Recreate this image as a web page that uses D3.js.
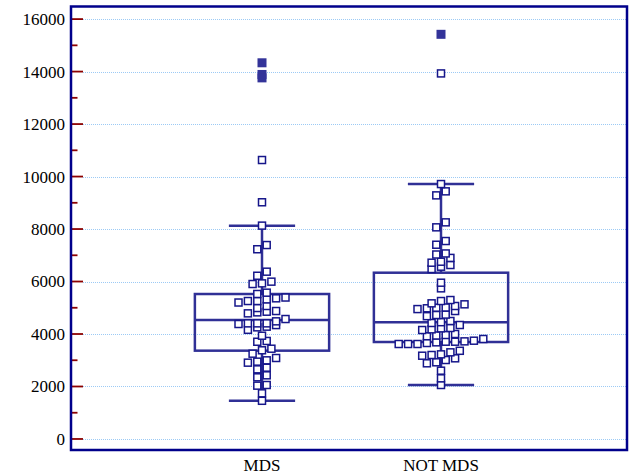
<!DOCTYPE html>
<html><head><meta charset="utf-8">
<script src="https://cdn.jsdelivr.net/npm/d3@7"></script>
<style>body{margin:0;background:#fff}svg{display:block}
svg text{font-family:"Liberation Serif","Times New Roman",serif !important;}</style>
</head><body>
<svg id="chart" width="632" height="475"></svg>
<script>
// ---- data ----
const categories = ["MDS", "NOT MDS"];
const mdsValues = [10630, 9020, 8130, 7390, 7230, 6375, 6220, 5995, 5930, 5905, 5575, 5525,
  5390, 5360, 5320, 5257, 5257, 5200, 5067, 4990, 4876, 4850, 4825, 4787,
  4571, 4483, 4406, 4406, 4406, 4381, 4340, 4280, 4254, 4160, 3935, 3735, 3705,
  3440, 3380, 3250, 3086, 2997, 2946, 2908, 2717, 2654, 2426, 2350, 2057, 2032, 1740, 1455];
const notMdsValues = [13930, 9714, 9436, 9283, 8255, 8065, 7543, 7402, 7070, 7030, 6900, 6755, 6717,
  6629, 6565, 6476, 5955, 5740, 5295, 5257, 5169, 5131, 5067, 5010, 5003, 4980, 4950, 4876,
  4740, 4724, 4680, 4495, 4450, 4420, 4343, 4230, 4216, 4178, 4152, 4000, 3962, 3943, 3916,
  3810, 3745, 3720, 3707, 3707, 3683, 3657, 3619, 3619, 3619,
  3360, 3302, 3225, 3200, 3173, 3074, 3009, 2922, 2884, 2602, 2312, 2057];
const mdsFarOut = [14335, 13890, 13760];
const notMdsFarOut = [15420];
// [lower whisker, Q1, median, Q3, upper whisker]
const mdsBox = [1455, 3365, 4530, 5524, 8130];
const notMdsBox = [2057, 3695, 4444, 6336, 9714];
const yTicks = [0, 2000, 4000, 6000, 8000, 10000, 12000, 14000, 16000];
const yMinorTicks = [1000, 3000, 5000, 7000, 9000, 11000, 13000, 15000];

const groups = [
  {name: categories[0], values: mdsValues, farOut: mdsFarOut, box: mdsBox},
  {name: categories[1], values: notMdsValues, farOut: notMdsFarOut, box: notMdsBox}
];

(function () {
// ---- layout ----
const pL = 71, pR = 627, pT = 6.5, pB = 450;
const svg = d3.select("#chart");
const y = d3.scaleLinear().domain([-420, 16480]).range([pB, pT]);
const x = d3.scaleLinear().domain([0, 3]).range([83, 620]);
const step = x(1) - x(0);
const boxW = step * 0.75, capW = step * 0.37, sq = 7, gap = 9.4;

const font = "Liberation Serif, Times New Roman, serif";
const tickColor = "#8b0000", frameColor = "#00008b", boxColor = "#303096", ptColor = "#16168a";
const crisp = v => Math.round(v) + 0.5;

// grid lines
svg.append("g").selectAll("line").data(yTicks).join("line")
  .attr("x1", pL + 12).attr("x2", pR)
  .attr("y1", d => crisp(y(d))).attr("y2", d => crisp(y(d)))
  .attr("stroke", "#9ccaf5").attr("stroke-width", 1).attr("stroke-dasharray", "1,1")
  .attr("shape-rendering", "crispEdges");

// axis labels
const axis = d3.axisLeft(y).tickValues(yTicks).tickSize(0).tickPadding(5).tickFormat(d3.format("d"));
const ag = svg.append("g").attr("transform", `translate(${pL},0)`).call(axis);
ag.attr("font-family", font).attr("font-size", 17);
ag.select(".domain").remove();
ag.selectAll("text").style("font-family", font).style("font-size", "17px").attr("fill", "#000").attr("dx", "-1");
// ticks inside the frame
svg.append("g").selectAll("line").data(yTicks).join("line")
  .attr("x1", pL + 1).attr("x2", pL + 12)
  .attr("y1", d => y(d)).attr("y2", d => y(d))
  .attr("stroke", tickColor).attr("stroke-width", 1.8);
svg.append("g").selectAll("line").data(yMinorTicks).join("line")
  .attr("x1", pL + 1).attr("x2", pL + 6.5)
  .attr("y1", d => y(d)).attr("y2", d => y(d))
  .attr("stroke", tickColor).attr("stroke-width", 1.8);

// dodge: group ascending values into rows, spread each row around the centre
function dodge(values, T) {
  const sorted = values.slice().sort((a, b) => a - b);
  const rows = [];
  let cur = null;
  for (const v of sorted) {
    if (cur && v - cur[0] < T) cur.push(v); else { cur = [v]; rows.push(cur); }
  }
  const out = [];
  rows.forEach(r => r.forEach((v, i) => out.push({v, k: i - (r.length - 1) / 2})));
  return out;
}

groups.forEach((g, gi) => {
  const cx = x(gi + 1);
  const [wl, q1, med, q3, wh] = g.box;
  const gg = svg.append("g").attr("stroke", boxColor).attr("stroke-width", 2.5).attr("fill", "none");
  gg.append("line").attr("x1", cx).attr("x2", cx).attr("y1", y(q3)).attr("y2", y(wh));
  gg.append("line").attr("x1", cx).attr("x2", cx).attr("y1", y(q1)).attr("y2", y(wl));
  gg.append("line").attr("x1", cx - capW / 2).attr("x2", cx + capW / 2).attr("y1", y(wh)).attr("y2", y(wh));
  gg.append("line").attr("x1", cx - capW / 2).attr("x2", cx + capW / 2).attr("y1", y(wl)).attr("y2", y(wl));
  gg.append("rect").attr("x", cx - boxW / 2).attr("width", boxW).attr("y", y(q3)).attr("height", y(q1) - y(q3));
  gg.append("line").attr("x1", cx - boxW / 2).attr("x2", cx + boxW / 2).attr("y1", y(med)).attr("y2", y(med));

  svg.append("g").selectAll("rect").data(dodge(g.values, 200)).join("rect")
    .attr("x", d => cx + d.k * gap - sq / 2).attr("y", d => y(d.v) - sq / 2)
    .attr("width", sq).attr("height", sq)
    .attr("fill", "#fff").attr("stroke", ptColor).attr("stroke-width", 1.5);

  svg.append("g").selectAll("rect").data(g.farOut).join("rect")
    .attr("x", cx - 4.5).attr("y", d => y(d) - 4.5).attr("width", 9).attr("height", 9)
    .attr("fill", "#333399");

  svg.append("text").attr("x", cx).attr("y", 471).attr("text-anchor", "middle")
    .style("font-family", font).style("font-size", "17px").attr("fill", "#000").text(g.name);
});

// frame
svg.append("rect").attr("x", pL).attr("y", pT).attr("width", pR - pL).attr("height", pB - pT)
  .attr("fill", "none").attr("stroke", frameColor).attr("stroke-width", 2.5);
})();
</script>
</body></html>
